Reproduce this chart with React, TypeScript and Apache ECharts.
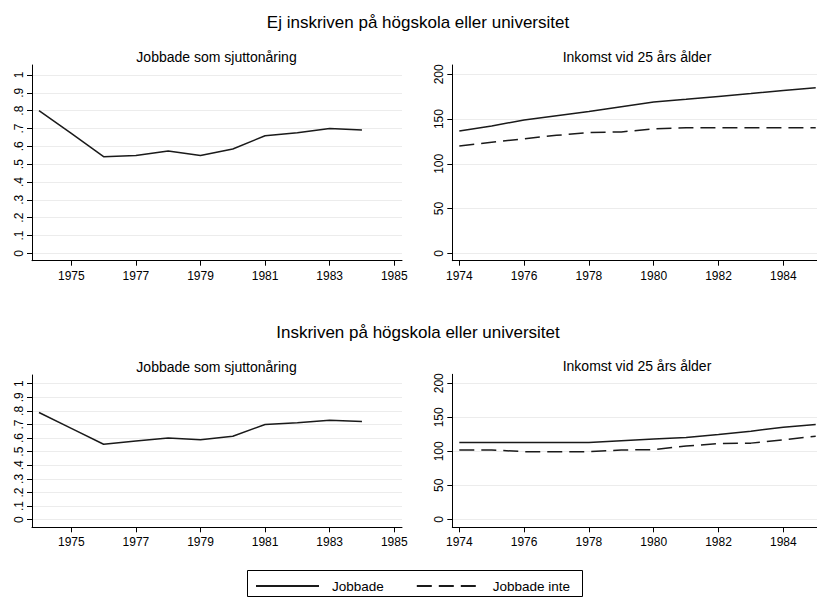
import React, { useEffect, useRef } from "react";
import * as echarts from "echarts";

// ---------- data ----------
const shareYears = [1974, 1975, 1976, 1977, 1978, 1979, 1980, 1981, 1982, 1983, 1984];
const incomeYears = [1974, 1975, 1976, 1977, 1978, 1979, 1980, 1981, 1982, 1983, 1984, 1985];

// Andel som jobbade som sjuttonåring
const shareNotEnrolled = [0.8, 0.672, 0.542, 0.548, 0.574, 0.548, 0.585, 0.659, 0.676, 0.7, 0.691];
const shareEnrolled = [0.788, 0.672, 0.555, 0.578, 0.6, 0.588, 0.613, 0.7, 0.712, 0.732, 0.722];

// Inkomst vid 25 års ålder
const incNotEnrolledWorked = [136.7, 142.2, 149, 153.8, 158.5, 163.8, 169, 172, 175.2, 178.5, 182, 185];
const incNotEnrolledNotWorked = [120, 124, 128, 131.8, 134.9, 135.6, 139, 140.4, 140.4, 140.4, 140.4, 140.4];
const incEnrolledWorked = [113.1, 113.1, 113.1, 113.1, 113.1, 115.6, 118, 120.4, 124.8, 129.6, 135.5, 139.4];
const incEnrolledNotWorked = [101.9, 101.9, 99.5, 99.5, 99.5, 101.9, 102.4, 107.7, 111.2, 112, 117, 122.2];

// ticks
const shareTicks = [0, 0.1, 0.2, 0.3, 0.4, 0.5, 0.6, 0.7, 0.8, 0.9, 1];
const shareTickLabels = ["0", ".1", ".2", ".3", ".4", ".5", ".6", ".7", ".8", ".9", "1"];
const incomeTicks = [0, 50, 100, 150, 200];
const oddYearTicks = [1975, 1977, 1979, 1981, 1983, 1985];
const evenYearTicks = [1974, 1976, 1978, 1980, 1982, 1984];

// texts
const mainTitles = ["Ej inskriven på högskola eller universitet", "Inskriven på högskola eller universitet"];
const panelTitles = ["Jobbade som sjuttonåring", "Inkomst vid 25 års ålder"];
const seriesNames = ["Jobbade", "Jobbade inte"];

// ---------- styling ----------
const FONT = "'Liberation Sans', Arial, Helvetica, sans-serif";
const INK = "#000000";
const LINE = "#1a1a1a";
const GRID = "#ececec";

const zip = (xs: number[], ys: number[]) => xs.map((x, i) => [x, ys[i]]);

const shareFmt = (v: number) => {
  const i = shareTicks.findIndex((t) => Math.abs(t - v) < 1e-6);
  return i >= 0 ? shareTickLabels[i] : "";
};

function xAxisFor(gridIndex: number, min: number, max: number, ticks: number[]) {
  return {
    type: "value",
    gridIndex,
    min,
    max,
    axisLine: { show: true, onZero: false, lineStyle: { color: INK, width: 1 } },
    axisTick: { show: true, length: 5, customValues: ticks, lineStyle: { color: INK, width: 1 } },
    axisLabel: {
      customValues: ticks,
      margin: 9,
      fontSize: 12,
      color: INK,
      fontFamily: FONT,
      formatter: (v: number) => String(v),
    },
    splitLine: { show: false },
  };
}

function yAxisFor(gridIndex: number, min: number, max: number, ticks: number[], fmt: (v: number) => string) {
  return {
    type: "value",
    gridIndex,
    min,
    max,
    axisLine: { show: true, onZero: false, lineStyle: { color: INK, width: 1 } },
    axisTick: { show: true, length: 5, customValues: ticks, lineStyle: { color: INK, width: 1 } },
    axisLabel: {
      customValues: ticks,
      rotate: 89.99,
      align: "center",
      verticalAlign: "bottom",
      margin: 7,
      fontSize: 12,
      color: INK,
      fontFamily: FONT,
      formatter: fmt,
    },
    splitLine: { show: true, lineStyle: { color: GRID, width: 1 } },
  };
}

const solidStyle = { color: LINE, width: 1.5, type: "solid" };
const dashedStyle = { color: LINE, width: 1.5, type: [15, 7] };

function lineSeries(name: string, axisIndex: number, xs: number[], ys: number[], style: any) {
  return {
    type: "line",
    name,
    xAxisIndex: axisIndex,
    yAxisIndex: axisIndex,
    data: zip(xs, ys),
    symbol: "none",
    showSymbol: false,
    color: LINE,
    itemStyle: { color: LINE },
    lineStyle: style,
    silent: true,
  };
}

function textEl(text: string, x: number, y: number, size: number) {
  return {
    type: "text",
    x,
    y,
    style: {
      text,
      fill: INK,
      fontSize: size,
      fontFamily: FONT,
      align: "center",
      verticalAlign: "middle",
      textAlign: "center",
      textVerticalAlign: "middle",
    },
  };
}

export default function App() {
  const ref = useRef<HTMLDivElement>(null);

  useEffect(() => {
    if (!ref.current) return;
    const chart = echarts.init(ref.current, null, { renderer: "svg" });
    const option: any = {
      animation: false,
      backgroundColor: "#ffffff",
      grid: [
        { left: 32, top: 65, width: 370, height: 195.7 },
        { left: 452.3, top: 65, width: 364.7, height: 195.7 },
        { left: 32, top: 375, width: 370, height: 152.3 },
        { left: 452.3, top: 374.3, width: 364.7, height: 153 },
      ],
      xAxis: [
        xAxisFor(0, 1973.783, 1985.24, oddYearTicks),
        xAxisFor(1, 1973.784, 1985.04, evenYearTicks),
        xAxisFor(2, 1973.783, 1985.24, oddYearTicks),
        xAxisFor(3, 1973.784, 1985.04, evenYearTicks),
      ],
      yAxis: [
        yAxisFor(0, -0.0415, 1.056, shareTicks, shareFmt),
        yAxisFor(1, -8.27, 210.4, incomeTicks, (v: number) => String(v)),
        yAxisFor(2, -0.056, 1.064, shareTicks, shareFmt),
        yAxisFor(3, -11.76, 213.2, incomeTicks, (v: number) => String(v)),
      ],
      legend: {
        data: seriesNames,
        left: 255,
        top: 579,
        padding: 0,
        itemWidth: 63,
        itemHeight: 14,
        itemGap: 32,
        selectedMode: false,
        itemStyle: { opacity: 0, borderWidth: 0 },
        textStyle: { fontSize: 13.5, color: INK, fontFamily: FONT, padding: [0, 0, 0, 8] },
      },
      graphic: [
        textEl(mainTitles[0], 418, 22, 17),
        textEl(mainTitles[1], 418, 332, 17),
        textEl(panelTitles[0], 216.5, 57, 14),
        textEl(panelTitles[1], 637, 57, 14),
        textEl(panelTitles[0], 216.5, 366.5, 14),
        textEl(panelTitles[1], 637, 366, 14),
        {
          type: "rect",
          shape: { x: 247.5, y: 570.5, width: 335, height: 26 },
          style: { fill: "none", stroke: INK, lineWidth: 1 },
          z: -1,
        },
      ],
      series: [
        lineSeries(seriesNames[0], 0, shareYears, shareNotEnrolled, solidStyle),
        lineSeries(seriesNames[0], 1, incomeYears, incNotEnrolledWorked, solidStyle),
        lineSeries(seriesNames[1], 1, incomeYears, incNotEnrolledNotWorked, dashedStyle),
        lineSeries(seriesNames[0], 2, shareYears, shareEnrolled, solidStyle),
        lineSeries(seriesNames[0], 3, incomeYears, incEnrolledWorked, solidStyle),
        lineSeries(seriesNames[1], 3, incomeYears, incEnrolledNotWorked, dashedStyle),
      ],
    };
    chart.setOption(option);
    return () => {
      chart.dispose();
    };
  }, []);

  return (
    <div
      ref={ref}
      style={{ position: "absolute", left: 0, top: 0, width: 817, height: 598, background: "#ffffff" }}
    />
  );
}
